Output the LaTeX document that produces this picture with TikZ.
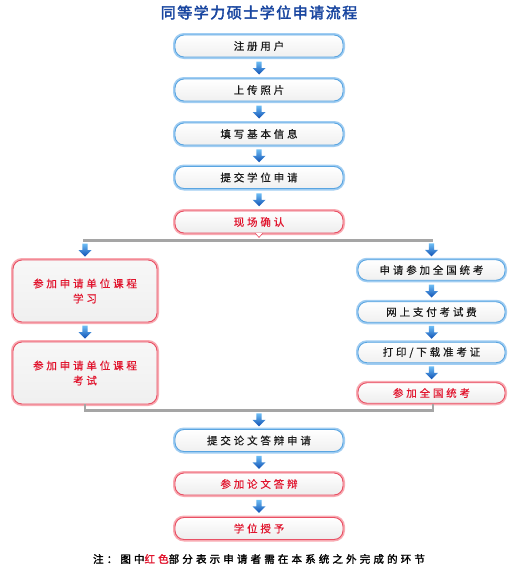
\documentclass[tikz,border=0pt]{standalone}
\usepackage{fontspec}
\newfontfamily\cjk[LetterSpace=27,FakeBold=0.4]{Noto Sans CJK SC}
\newfontfamily\cjkt[LetterSpace=10,FakeBold=2.5]{Noto Sans CJK SC}
\newfontfamily\cjkn[LetterSpace=30,FakeBold=1.8]{Noto Sans CJK SC}
\usetikzlibrary{calc}
\definecolor{bluegl}{RGB}{160,205,242}
\definecolor{blueln}{RGB}{90,165,225}
\definecolor{redgl}{RGB}{248,170,178}
\definecolor{redln}{RGB}{232,80,100}
\definecolor{redtx}{RGB}{225,20,45}
\definecolor{titleblue}{RGB}{25,70,160}
\definecolor{linegray}{RGB}{165,165,165}
\definecolor{arrtop}{RGB}{110,190,245}
\definecolor{arrbot}{RGB}{15,80,180}
\tikzset{
  boxbase/.style={rounded corners=9pt, minimum height=22pt, align=center, inner sep=0pt,
    font=\cjk\fontsize{10.5}{15}\selectfont},
  bluebox/.style={boxbase, draw=blueln, line width=0.9pt, top color=white, bottom color=black!6,
    preaction={draw=bluegl, line width=4pt}, text=black!90},
  redbox/.style={boxbase, draw=redln, line width=0.9pt, top color=white, bottom color=black!7,
    preaction={draw=redgl, line width=4pt}, text=redtx},
  mainw/.style={minimum width=168pt},
  rightw/.style={minimum width=147pt, minimum height=20.5pt},
  leftbox/.style={redbox, minimum width=144pt, minimum height=62pt, top color=black!3, bottom color=black!6},
  graylink/.style={draw=linegray, line width=2.5pt},
  darr/.pic={\shade[top color=arrtop, bottom color=arrbot]
    (-2.6,-6.5) -- (2.6,-6.5) -- (2.6,0) -- (6.5,0) -- (0,6.5) -- (-6.5,0) -- (-2.6,0) -- cycle;}
}
\begin{document}
\begin{tikzpicture}[x=1pt,y=-1pt]
\useasboundingbox (0,0) rectangle (515,570);
\fill[white] (0,0) rectangle (515,570);
\node[text=titleblue, font=\cjkt\fontsize{15}{18}\selectfont] (title) at (259,12.5) {同等学力硕士学位申请流程};
% main column
\node[bluebox, mainw] (n1) at (259,46) {注册用户};
\node[bluebox, mainw] (n2) at (259,90) {上传照片};
\node[bluebox, mainw] (n3) at (259,134) {填写基本信息};
\node[bluebox, mainw] (n4) at (259,177.5) {提交学位申请};
\node[redbox, mainw] (n5) at (259,222) {现场确认};
% left column
\node[leftbox] (L1) at (85,291) {参加申请单位课程\\学习};
\node[leftbox] (L2) at (85,373) {参加申请单位课程\\考试};
% right column
\node[bluebox, rightw] (R1) at (431.5,270) {申请参加全国统考};
\node[bluebox, rightw] (R2) at (431.5,312) {网上支付考试费};
\node[bluebox, rightw] (R3) at (431.5,352.5) {打印/下载准考证};
\node[redbox, rightw] (R4) at (431.5,393) {参加全国统考};
% bottom column
\node[bluebox, mainw] (T1) at (259,440.5) {提交论文答辩申请};
\node[redbox, mainw] (T2) at (259,484) {参加论文答辩};
\node[redbox, mainw] (T3) at (259,528.5) {学位授予};
% note
\node[font=\cjkn\fontsize{10.5}{14}\selectfont, text=black] (note) at (259,559)
  {注：图中\textcolor{redtx}{红色}部分表示申请者需在本系统之外完成的环节};
% tail under confirm box
\draw[redln, fill=white, line width=0.6pt] ($(n5.south)+(-4,-0.5)$) -- ($(n5.south)+(0,4)$) -- ($(n5.south)+(4,-0.5)$);
% split and merge lines
\coordinate (split) at ($(n5.south)+(0,7)$);
\coordinate (merge) at ($(L2.south)+(0,6)$);
\draw[graylink] ($(L1.north |- split)+(-2,0)$) -- ($(R1.north |- split)+(1.5,0)$);
\draw[graylink] (L2.south) -- (L2.south |- merge) -- ($(R4.south |- merge)+(1.5,0)$) -- ($(R4.south)+(1.5,0)$);
% arrows
\pic at ($(n1.south)!0.5!(n2.north)$) {darr};
\pic at ($(n2.south)!0.5!(n3.north)$) {darr};
\pic at ($(n3.south)!0.5!(n4.north)$) {darr};
\pic at ($(n4.south)!0.5!(n5.north)$) {darr};
\pic at ($(L1.north |- split)!0.5!(L1.north)$) {darr};
\pic at ($(R1.north |- split)!0.5!(R1.north)$) {darr};
\pic at ($(L1.south)!0.5!(L2.north)$) {darr};
\pic at ($(R1.south)!0.5!(R2.north)$) {darr};
\pic at ($(R2.south)!0.5!(R3.north)$) {darr};
\pic at ($(R3.south)!0.5!(R4.north)$) {darr};
\pic at ($(T1.north |- merge)!0.5!(T1.north)$) {darr};
\pic at ($(T1.south)!0.5!(T2.north)$) {darr};
\pic at ($(T2.south)!0.5!(T3.north)$) {darr};
\end{tikzpicture}
\end{document}
